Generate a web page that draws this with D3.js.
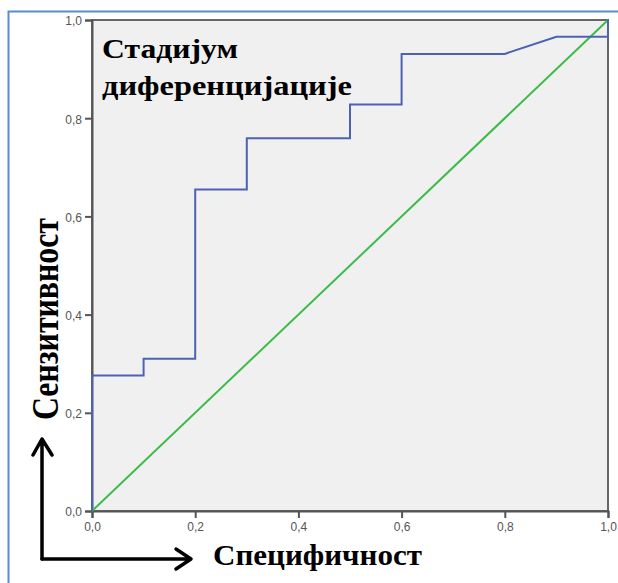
<!DOCTYPE html>
<html lang="sr">
  <head>
    <meta charset="UTF-8" />
    <title>ROC крива</title>
    <script src="https://cdn.jsdelivr.net/npm/d3@7/dist/d3.min.js"></script>
    <style>
      body { margin: 0; background: #fff; }
      svg { display: block; }
    </style>
  </head>
  <body>
    <svg width="618" height="583"></svg>
    <script>
      // ROC крива (1 - специфичност, сензитивност)
      const fpr = [0, 0, 0.1, 0.1, 0.2, 0.2, 0.3, 0.3, 0.5, 0.5, 0.6, 0.6, 0.8, 0.9, 1.0, 1.0]
      const tpr = [0, 0.276, 0.276, 0.31, 0.31, 0.655, 0.655, 0.759, 0.759, 0.828, 0.828, 0.931, 0.931, 0.966, 0.966, 1.0]
      const refLine = [0, 1]
      const ticks = [0, 0.2, 0.4, 0.6, 0.8, 1.0]
      const titleLines = ['Стадијум', 'диференцијације']
      const xLabel = 'Специфичност'
      const yLabel = 'Сензитивност'

      const svg = d3.select('svg')
      const m = { left: 92, top: 20, right: 608, bottom: 511 }

      const x = d3.scaleLinear().domain([0, 1]).range([m.left, m.right])
      const y = d3.scaleLinear().domain([0, 1]).range([m.bottom, m.top])
      const fmt = (d) => d3.format('.1f')(d).replace('.', ',')

      // спољни оквир
      svg.append('rect')
        .attr('x', 8.5).attr('y', 11.5)
        .attr('width', 640).attr('height', 600)
        .attr('fill', 'none')
        .attr('stroke', '#5b8bd0')
        .attr('stroke-width', 2)

      // позадина графика
      svg.append('rect')
        .attr('x', m.left).attr('y', m.top)
        .attr('width', m.right - m.left).attr('height', m.bottom - m.top)
        .attr('fill', '#f0f0f0')
        .attr('stroke', '#666')
        .attr('stroke-width', 2)

      const xAxis = svg.append('g')
        .attr('transform', `translate(0,${m.bottom})`)
        .call(d3.axisBottom(x).tickValues(ticks).tickFormat(fmt).tickSize(7).tickPadding(4))
      const yAxis = svg.append('g')
        .attr('transform', `translate(${m.left},0)`)
        .call(d3.axisLeft(y).tickValues(ticks).tickFormat(fmt).tickSize(7).tickPadding(3))

      ;[xAxis, yAxis].forEach((g) => {
        g.select('.domain').attr('stroke', '#555').attr('stroke-width', 2)
        g.selectAll('.tick line').attr('stroke', '#555').attr('stroke-width', 2)
        g.selectAll('.tick text')
          .attr('fill', '#555')
          .style('font-family', 'Arial, "Liberation Sans", sans-serif')
          .style('font-size', '12px')
      })
      yAxis.selectAll('.tick text').attr('dy', '0.4em')

      // референтна линија
      svg.append('line')
        .attr('x1', x(refLine[0])).attr('y1', y(refLine[0]))
        .attr('x2', x(refLine[1])).attr('y2', y(refLine[1]))
        .attr('stroke', '#3dbb4a')
        .attr('stroke-width', 2)

      // ROC крива
      const line = d3.line().x((d) => x(d[0])).y((d) => y(d[1]))
      svg.append('path')
        .datum(fpr.map((v, i) => [v, tpr[i]]))
        .attr('d', line)
        .attr('fill', 'none')
        .attr('stroke', '#4d62b5')
        .attr('stroke-width', 2)

      const serif = '"Liberation Serif", "Times New Roman", serif'

      // наслов
      svg.append('text')
        .attr('x', 102).attr('y', 58)
        .attr('textLength', 136).attr('lengthAdjust', 'spacingAndGlyphs')
        .style('font-family', serif).style('font-weight', 'bold').style('font-size', '27px')
        .text(titleLines[0])
      svg.append('text')
        .attr('x', 102).attr('y', 95)
        .attr('textLength', 250).attr('lengthAdjust', 'spacingAndGlyphs')
        .style('font-family', serif).style('font-weight', 'bold').style('font-size', '27px')
        .text(titleLines[1])

      // наслови оса
      svg.append('text')
        .attr('x', 213).attr('y', 565)
        .attr('textLength', 209).attr('lengthAdjust', 'spacingAndGlyphs')
        .style('font-family', serif).style('font-weight', 'bold').style('font-size', '30px')
        .text(xLabel)
      svg.append('text')
        .attr('transform', 'translate(58,420) rotate(-90)')
        .attr('textLength', 202).attr('lengthAdjust', 'spacingAndGlyphs')
        .style('font-family', serif).style('font-weight', 'bold').style('font-size', '38px')
        .text(yLabel)

      // стрелице
      const arrows = svg.append('g')
        .attr('fill', 'none').attr('stroke', '#000')
        .attr('stroke-width', 3.5).attr('stroke-linecap', 'round').attr('stroke-linejoin', 'round')
      arrows.append('path').attr('d', 'M42,559 L42,439 M33,455 L42,439 L52,455')
      arrows.append('path').attr('d', 'M42,559 L191,559 M176,549 L191,559 L176,569')
    </script>
  </body>
</html>
